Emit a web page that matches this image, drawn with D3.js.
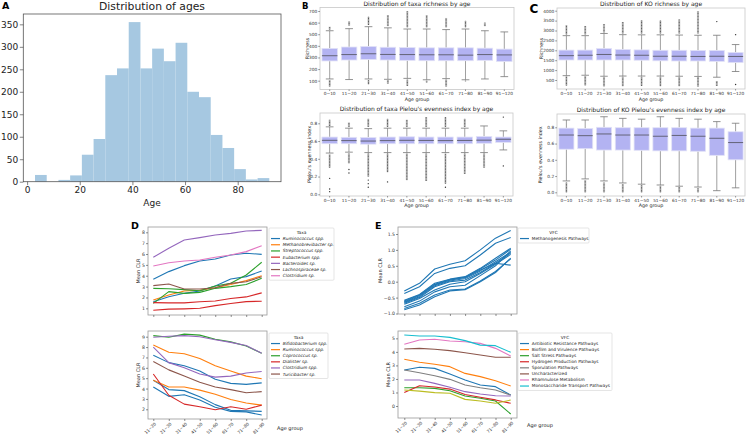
<!DOCTYPE html>
<html><head><meta charset="utf-8">
<script src="https://cdn.jsdelivr.net/npm/d3@7/dist/d3.min.js"></script>
<style>body{margin:0;background:#fff}svg{display:block}</style>
</head><body><script>
const FONT = "DejaVu Sans, sans-serif";

// ---------- Panel A: age histogram ----------
const ageBinEdges = [3,7.45,11.9,16.35,20.8,25.25,29.7,34.15,38.6,43.05,47.5,51.95,56.4,60.85,65.3,69.75,74.2,78.65,83.1,87.55,92];
const ageCounts = [15,0,4,14,60,95,237,252,355,252,296,268,309,200,188,104,75,28,5,8];
const ageXTicks = [0,20,40,60,80];
const ageYTicks = [0,50,100,150,200,250,300,350];

// ---------- Panels B/C: boxplots ----------
const ageGroups = ["0~10","11~20","21~30","31~40","41~50","51~60","61~70","71~80","81~90","91~120"];

const taxaRichQ1  = [270,278,283,278,275,272,272,272,275,265];
const taxaRichMed = [315,325,332,326,325,323,323,320,325,322];
const taxaRichQ3  = [378,390,395,388,385,383,383,383,380,372];
const taxaRichLo  = [115,110,115,112,120,108,118,108,115,135];
const taxaRichHi  = [530,548,565,555,545,545,540,545,530,520];
const taxaRichOutHi = [[540,565],[575,610],[580,650],[570,665],[560,700],[560,665],[560,640],[560,615],[570,600],null];
const taxaRichOutLo = [[50,105],null,[70,105],[75,105],[55,110],[85,100],[50,110],[95,100],null,null];
const taxaRichPts = [[],[],[],[],[],[],[],[],[],[]];
const taxaRichTicks = [100,200,300,400,500,600,700];

const taxaEvenQ1  = [0.57,0.57,0.565,0.57,0.57,0.57,0.57,0.57,0.575,0.585];
const taxaEvenMed = [0.608,0.605,0.60,0.605,0.608,0.607,0.605,0.607,0.61,0.62];
const taxaEvenQ3  = [0.645,0.642,0.64,0.645,0.648,0.645,0.645,0.645,0.652,0.645];
const taxaEvenLo  = [0.465,0.475,0.47,0.47,0.47,0.47,0.47,0.47,0.47,0.50];
const taxaEvenHi  = [0.76,0.745,0.74,0.745,0.745,0.745,0.745,0.745,0.77,0.715];
const taxaEvenOutHi = [[0.77,0.84],[0.76,0.81],[0.76,0.85],[0.76,0.85],[0.76,0.84],[0.76,0.87],[0.76,0.87],[0.76,0.85],null,null];
const taxaEvenOutLo = [[0.30,0.45],[0.35,0.46],[0.20,0.46],[0.25,0.46],[0.16,0.46],[0.15,0.46],[0.12,0.46],[0.23,0.46],[0.30,0.46],null];
const taxaEvenPts = [[0.18,0.06,0.03],[0.28,0.24],[0.16,0.12,0.08],[0.14],[],[],[0.08],[],[],[0.87,0.32]];
const evenTicks = [0.0,0.2,0.4,0.6,0.8];

const koRichQ1  = [1510,1510,1510,1510,1500,1470,1460,1460,1440,1380];
const koRichMed = [1730,1750,1790,1760,1750,1700,1700,1690,1700,1690];
const koRichQ3  = [2010,2010,2090,2040,2020,2000,2000,1990,1990,1890];
const koRichLo  = [720,740,690,700,700,700,690,680,640,930];
const koRichHi  = [2740,2740,2850,2790,2780,2780,2770,2760,2760,2290];
const koRichOutHi = [[2800,3270],[2800,3230],[2900,3330],[2850,3430],[2850,3520],[2850,3500],[2850,3560],[2850,3980],null,null];
const koRichOutLo = [[220,690],[230,700],[180,660],[190,670],[200,670],[190,670],[190,660],[170,650],[200,450],null];
const koRichPts = [[],[],[],[],[],[],[],[],[3450],[2790,270]];
const koRichTicks = [500,1000,1500,2000,2500,3000,3500,4000];

const koEvenQ1  = [0.53,0.537,0.52,0.52,0.517,0.51,0.51,0.505,0.455,0.40];
const koEvenMed = [0.705,0.697,0.718,0.705,0.705,0.69,0.70,0.69,0.665,0.612];
const koEvenQ3  = [0.79,0.785,0.80,0.795,0.795,0.795,0.795,0.79,0.79,0.745];
const koEvenLo  = [0.14,0.165,0.14,0.115,0.10,0.09,0.075,0.065,0.02,0.055];
const koEvenHi  = [0.89,0.89,0.93,0.91,0.90,0.93,0.91,0.90,0.87,0.85];
const koEvenOutHi = [null,null,null,null,null,null,null,null,null,null];
const koEvenOutLo = [[0.0,0.12],[0.0,0.15],[0.0,0.12],[0.0,0.10],[0.0,0.09],[0.0,0.08],[0.0,0.065],[0.0,0.055],null,null];
const koEvenPts = [[],[],[],[],[],[],[],[],[],[]];

// ---------- Panels D/E: mean CLR lines ----------
const clrGroups = ["11~20","21~30","31~40","41~50","51~60","61~70","71~80","81~90"];

const dTopTaxa = ["Ruminococcus spp.","Methanobrevibacter sp.","Streptococcus spp.","Eubacterium spp.","Bacteroides sp.","Lachnospiraceae sp.","Clostridium sp."];
const dTopSeriesTaxon = [0,0,1,2,2,3,3,4,5,6];
const dTopValues = [
  [3.67,4.38,4.93,5.36,5.54,5.91,6.07,5.97],
  [1.60,2.07,2.38,2.60,3.06,3.70,3.92,4.44],
  [1.77,2.23,2.60,2.66,2.90,3.20,3.55,4.00],
  [2.84,2.80,2.72,2.62,3.06,3.30,4.07,5.24],
  [1.46,2.54,2.38,2.47,2.84,3.00,3.20,3.76],
  [1.52,1.50,1.50,1.60,1.67,1.90,2.05,2.42],
  [0.82,0.93,0.95,1.00,1.25,1.45,1.62,1.65],
  [5.70,6.53,7.29,7.51,7.75,7.90,8.12,8.18],
  [3.09,3.24,2.78,2.78,2.90,3.30,3.45,3.90],
  [4.90,5.20,5.36,5.45,5.70,5.91,6.22,6.77]
];
const dTopTicks = [1,2,3,4,5,6,7,8];

const dBotTaxa = ["Bifidobacterium spp.","Ruminococcus spp.","Coprococcus sp.","Dialister sp.","Clostridium spp.","Turicibacter sp."];
const dBotSeriesTaxon = [0,0,0,1,1,2,3,4,4,5];
const dBotValues = [
  [7.20,6.50,6.20,5.70,4.90,4.50,4.40,4.55],
  [4.80,3.90,3.80,3.20,2.45,1.90,1.85,1.80],
  [4.15,3.25,3.40,2.90,2.20,1.80,1.75,1.45],
  [8.20,7.50,7.35,6.90,6.20,5.70,5.20,4.95],
  [4.80,4.15,4.15,3.85,3.45,2.95,2.60,2.40],
  [9.10,8.95,9.25,9.15,8.75,8.50,8.10,7.40],
  [5.40,3.35,2.50,2.25,1.95,2.25,2.00,2.40],
  [8.95,9.05,9.10,9.00,8.70,8.45,8.15,7.40],
  [8.00,6.50,6.00,5.40,5.10,5.20,5.50,5.65],
  [6.60,5.80,5.20,4.60,4.15,3.90,3.60,3.70]
];
const dBotTicks = [2,3,4,5,6,7,8,9];

const eTopVfc = ["Methanogenesis Pathways"];
const eTopValues = [
  [-0.29,-0.05,0.40,0.55,0.66,1.00,1.37,1.61],
  [-0.37,-0.16,0.26,0.42,0.50,0.84,1.21,1.39],
  [-0.58,-0.40,-0.05,0.08,0.16,0.42,0.74,1.05],
  [-0.61,-0.42,-0.08,0.07,0.14,0.37,0.58,0.52],
  [-0.63,-0.44,-0.10,0.05,0.13,0.40,0.68,1.02],
  [-0.65,-0.47,-0.13,0.02,0.10,0.34,0.63,0.93],
  [-0.68,-0.50,-0.16,0.00,0.05,0.29,0.58,0.90],
  [-0.71,-0.53,-0.26,-0.08,0.00,0.26,0.55,0.86],
  [-0.79,-0.61,-0.32,-0.16,-0.11,0.19,0.50,0.97],
  [-0.84,-0.68,-0.42,-0.26,-0.23,0.02,0.32,0.72],
  [-0.88,-0.73,-0.47,-0.29,-0.25,0.00,0.29,0.74]
];
const eTopTicks = [-1.0,-0.5,0.0,0.5,1.0,1.5];

const eBotVfc = ["Antibiotic Resistance Pathways","Biofilm and Virulence Pathways","Salt Stress Pathways","Hydrogen Production Pathways","Sporulation Pathways","Uncharacterized","Rhamnulose Metabolism","Monosaccharide Transport Pathways"];
const eBotValues = [
  [2.66,2.86,2.78,2.36,1.92,1.55,1.43,0.81],
  [3.45,3.23,3.08,2.91,2.41,2.17,1.87,1.48],
  [1.35,1.35,1.30,1.13,0.74,0.57,0.37,-0.59],
  [1.00,1.50,1.40,1.25,0.85,0.65,0.45,0.20],
  [2.66,2.46,2.24,1.97,1.55,1.35,1.18,0.81],
  [4.21,4.26,4.19,4.09,3.94,3.77,3.60,3.60],
  [4.56,4.88,4.93,4.80,4.75,4.63,4.26,3.69],
  [5.25,5.17,5.17,5.07,4.83,4.50,4.46,3.97],
  [1.92,1.92,1.67,1.38,1.06,0.89,0.76,0.74],
  [1.18,1.10,0.99,0.94,0.49,0.37,0.20,0.44]
];
const eBotTicks = [0,1,2,3,4,5];

// ---------- styles ----------
const TAB = ["#1f77b4","#ff7f0e","#2ca02c","#d62728","#9467bd","#8c564b","#e377c2","#7f7f7f","#bcbd22","#17becf"];
const dTopColors = [TAB[0],TAB[1],TAB[2],TAB[3],TAB[4],TAB[5],TAB[6]];
const dBotColors = [TAB[0],TAB[1],TAB[2],TAB[3],TAB[4],TAB[5]];
const eBotColors = [TAB[0],TAB[1],TAB[2],TAB[3],TAB[7],TAB[5],TAB[6],TAB[9],TAB[4],TAB[8]];

const svg = d3.select("body").append("svg").attr("width",747).attr("height",435)
  .attr("font-family",FONT);
svg.append("rect").attr("width",747).attr("height",435).attr("fill","#fff");

function txt(x,y,s,fs,o={}){
  const t = svg.append("text").attr("x",x).attr("y",y).text(s)
    .attr("font-size",fs).attr("font-family",FONT).attr("fill",o.fill||"#222");
  if(o.anchor) t.attr("text-anchor",o.anchor);
  if(o.weight) t.attr("font-weight",o.weight);
  if(o.style) t.attr("font-style",o.style);
  if(o.rotate!==undefined) t.attr("transform",`rotate(${o.rotate},${x},${y})`);
  return t;
}
function styleAxis(g, fs, tickColor, labColor){
  g.select(".domain").remove();
  g.attr("font-family",FONT).attr("font-size",fs);
  g.selectAll(".tick line").attr("stroke",tickColor).attr("stroke-width",0.6);
  g.selectAll(".tick text").attr("font-size",fs).attr("font-family",FONT).attr("fill",labColor);
}
function frame(x0,y0,x1,y1,c,w){
  svg.append("rect").attr("x",x0).attr("y",y0).attr("width",x1-x0).attr("height",y1-y0)
    .attr("fill","none").attr("stroke",c).attr("stroke-width",w);
}

// ================= Panel A =================
(function(){
  const x0=23.3,x1=281,y0=14,y1=181.7;
  const x = d3.scaleLinear().domain([-1.45,96.45]).range([x0,x1]);
  const y = d3.scaleLinear().domain([0,373]).range([y1,y0]);
  svg.append("g").selectAll("rect").data(ageCounts).join("rect")
    .attr("x",(d,i)=>x(ageBinEdges[i]))
    .attr("width",(d,i)=>x(ageBinEdges[i+1])-x(ageBinEdges[i]))
    .attr("y",d=>y(d)).attr("height",d=>y(0)-y(d))
    .attr("fill","#a6c8e1");
  frame(x0,y0,x1,y1,"#555",0.8);
  const ya = svg.append("g").attr("transform",`translate(${x0},0)`)
    .call(d3.axisLeft(y).tickValues(ageYTicks).tickSize(3.5).tickPadding(1.5));
  styleAxis(ya,9,"#333","#222");
  const xa = svg.append("g").attr("transform",`translate(0,${y1})`)
    .call(d3.axisBottom(x).tickValues(ageXTicks).tickSize(3.5).tickPadding(1.5));
  styleAxis(xa,9,"#333","#222");
  txt(152,9.5,"Distribution of ages",10.8,{anchor:"middle"});
  txt(152,206,"Age",9,{anchor:"middle"});
  txt(2,8.5,"A",9.5,{weight:"bold",fill:"#000"});
})();

// ================= Box panels =================
function boxPanel(p){
  const x = d3.scaleBand().domain(ageGroups).range([p.x0,p.x1]).paddingInner(0.2).paddingOuter(0.1);
  const y = d3.scaleLinear().domain(p.domain).range([p.y1,p.y0]);
  const g = svg.append("g");
  const bw = x.bandwidth();
  ageGroups.forEach((k,i)=>{
    const cx = x(k)+bw/2;
    // whiskers + caps
    [[p.q3[i],p.hi[i]],[p.q1[i],p.lo[i]]].forEach(([a,b])=>{
      g.append("line").attr("x1",cx).attr("x2",cx).attr("y1",y(a)).attr("y2",y(b))
        .attr("stroke","#888").attr("stroke-width",0.8);
      g.append("line").attr("x1",cx-bw/4).attr("x2",cx+bw/4).attr("y1",y(b)).attr("y2",y(b))
        .attr("stroke","#777").attr("stroke-width",0.8);
    });
    // fliers (dense spans)
    [p.outHi[i],p.outLo[i]].forEach(s=>{
      if(!s) return;
      g.append("line").attr("x1",cx).attr("x2",cx).attr("y1",y(s[0])).attr("y2",y(s[1]))
        .attr("stroke","#cfcfcf").attr("stroke-width",2.2);
      g.append("line").attr("x1",cx).attr("x2",cx).attr("y1",y(s[0])).attr("y2",y(s[1]))
        .attr("stroke","#3a3a3a").attr("stroke-width",0.9).attr("stroke-dasharray","0.9,0.6");
    });
    (p.pts[i]||[]).forEach(v=>{
      g.append("circle").attr("cx",cx).attr("cy",y(v)).attr("r",0.7).attr("fill","#333");
    });
    // box
    g.append("rect").attr("x",x(k)).attr("y",y(p.q3[i])).attr("width",bw)
      .attr("height",y(p.q1[i])-y(p.q3[i]))
      .attr("fill","#b3b3f2").attr("stroke","#e2e2f7").attr("stroke-width",0.8);
    g.append("line").attr("x1",x(k)).attr("x2",x(k)+bw).attr("y1",y(p.med[i])).attr("y2",y(p.med[i]))
      .attr("stroke","#5a5a6a").attr("stroke-width",0.9);
  });
  frame(p.x0,p.y0,p.x1,p.y1,"#c8c8c8",0.8);
  const ya = svg.append("g").attr("transform",`translate(${p.x0},0)`)
    .call(d3.axisLeft(y).tickValues(p.ticks).tickFormat(p.fmt).tickSize(1.8).tickPadding(1));
  styleAxis(ya,4.3,"#555","#333");
  const xa = svg.append("g").attr("transform",`translate(0,${p.y1})`)
    .call(d3.axisBottom(x).tickSize(1.5).tickPadding(p.xpad));
  styleAxis(xa,4.3,"#555","#333");
  const cxm = (p.x0+p.x1)/2;
  txt(cxm,p.titleY,p.title,6,{anchor:"middle"});
  txt(cxm,p.xlabY,"Age group",4.8,{anchor:"middle"});
  txt(p.ylabX+1.7,(p.y0+p.y1)/2,p.ylabel,4.8,{anchor:"middle",rotate:-90});
}

boxPanel({x0:320,x1:514,y0:7.5,y1:89.5,domain:[700-(89.5-11)/0.11617,700+(11-7.5)/0.11617],
  q1:taxaRichQ1,med:taxaRichMed,q3:taxaRichQ3,lo:taxaRichLo,hi:taxaRichHi,
  outHi:taxaRichOutHi,outLo:taxaRichOutLo,pts:taxaRichPts,ticks:taxaRichTicks,fmt:d3.format("d"),
  xpad:1.2,title:"Distribution of taxa richness by age",titleY:5.8,xlabY:100.5,ylabel:"Richness",ylabX:307});
boxPanel({x0:320,x1:513,y0:113,y1:196,domain:[(194.3-196)/88.75,(194.3-113)/88.75],
  q1:taxaEvenQ1,med:taxaEvenMed,q3:taxaEvenQ3,lo:taxaEvenLo,hi:taxaEvenHi,
  outHi:taxaEvenOutHi,outLo:taxaEvenOutLo,pts:taxaEvenPts,ticks:evenTicks,fmt:d3.format(".1f"),
  xpad:1.2,title:"Distribution of taxa Pielou's evenness index by age",titleY:111,xlabY:206.5,ylabel:"Pielou's evenness index",ylabX:309});
boxPanel({x0:557,x1:745,y0:8,y1:89,domain:[4000-(89-10.7)/0.0198,4000+(10.7-8)/0.0198],
  q1:koRichQ1,med:koRichMed,q3:koRichQ3,lo:koRichLo,hi:koRichHi,
  outHi:koRichOutHi,outLo:koRichOutLo,pts:koRichPts,ticks:koRichTicks,fmt:d3.format("d"),
  xpad:1.5,title:"Distribution of KO richness by age",titleY:6.3,xlabY:100.5,ylabel:"Richness",ylabX:541});
boxPanel({x0:557,x1:745,y0:114,y1:196,domain:[(192.3-196)/81.25,(192.3-114)/81.25],
  q1:koEvenQ1,med:koEvenMed,q3:koEvenQ3,lo:koEvenLo,hi:koEvenHi,
  outHi:koEvenOutHi,outLo:koEvenOutLo,pts:koEvenPts,ticks:evenTicks,fmt:d3.format(".1f"),
  xpad:1.2,title:"Distribution of KO Pielou's evenness index by age",titleY:112,xlabY:206.5,ylabel:"Pielou's evenness index",ylabX:540});

txt(302,8.5,"B",8.5,{weight:"bold",fill:"#000"});
txt(529.5,13,"C",12,{weight:"bold",fill:"#000"});

// ================= Line panels =================
function legend(p){
  const n = p.names.length;
  const h = 12 + (n-1)*p.sp + 3;
  svg.append("rect").attr("x",p.x0).attr("y",p.y0).attr("width",p.x1-p.x0).attr("height",h)
    .attr("fill","#fff").attr("stroke","#d4d4d4").attr("stroke-width",0.6).attr("rx",1);
  txt((p.x0+p.x1)/2,p.y0+5.7,p.title,4.3,{anchor:"middle"});
  p.names.forEach((nm,i)=>{
    const by = p.y0+12+i*p.sp;
    svg.append("line").attr("x1",p.x0+2).attr("x2",p.x0+11).attr("y1",by-1.45).attr("y2",by-1.45)
      .attr("stroke",p.colors[i]).attr("stroke-width",1.2);
    txt(p.x0+13.7,by,nm,4.3,{style:p.italic?"italic":null});
  });
}
function linePanel(p){
  const x = d3.scalePoint().domain(clrGroups).range([p.xa,p.xb]);
  const y = d3.scaleLinear().domain(p.domain).range([p.y1,p.y0]);
  const ln = d3.line().x((d,i)=>x(clrGroups[i])).y(d=>y(d));
  const g = svg.append("g");
  p.values.forEach((vals,i)=>{
    g.append("path").attr("d",ln(vals)).attr("fill","none").attr("stroke",p.colors[i])
      .attr("stroke-width",1.1).attr("stroke-linejoin","round");
  });
  frame(p.x0,p.y0,p.x1,p.y1,"#999",0.8);
  const ya = svg.append("g").attr("transform",`translate(${p.x0},0)`)
    .call(d3.axisLeft(y).tickValues(p.ticks).tickFormat(p.fmt).tickSize(2).tickPadding(1));
  styleAxis(ya,4.6,"#444","#333");
  const xa = svg.append("g").attr("transform",`translate(0,${p.y1})`)
    .call(d3.axisBottom(x).tickSize(2).tickFormat(p.xlabels?(d=>d):(()=>"")));
  styleAxis(xa,4.2,"#444","#333");
  if(p.xlabels){
    xa.selectAll(".tick text").attr("text-anchor","end").attr("y",0).attr("dy","0.35em")
      .attr("transform","translate(1.5,4.2) rotate(-45)");
    txt(p.agX,p.agY,"Age group",5,{anchor:"middle"});
  }
  txt(p.ylabX+1.8,(p.y0+p.y1)/2,"Mean CLR",5,{anchor:"middle",rotate:-90});
}

linePanel({x0:148,x1:267,y0:227,y1:315,xa:153.3,xb:261.7,
  domain:[8-(315-232.3)/10.86,8+(232.3-227)/10.86],ticks:dTopTicks,fmt:d3.format("d"),
  values:dTopValues,colors:dTopSeriesTaxon.map(t=>dTopColors[t]),xlabels:false,ylabX:138});
legend({x0:269,x1:334,y0:228,sp:6.2,title:"Taxa",names:dTopTaxa,colors:dTopColors,italic:true});

linePanel({x0:148,x1:267,y0:331,y1:419,xa:153.3,xb:261.7,
  domain:[9-(419-336.7)/10.37,9+(336.7-331)/10.37],ticks:dBotTicks,fmt:d3.format("d"),
  values:dBotValues,colors:dBotSeriesTaxon.map(t=>dBotColors[t]),xlabels:true,agX:290,agY:429.5,ylabX:138});
legend({x0:269,x1:328,y0:333,sp:6.1,title:"Taxa",names:dBotTaxa,colors:dBotColors,italic:true});

linePanel({x0:398,x1:517,y0:227,y1:314,xa:404.3,xb:510.7,
  domain:[-(314-281.7)/31.8,(281.7-227)/31.8],ticks:eTopTicks,fmt:d3.format(".1f"),
  values:eTopValues,colors:eTopValues.map(()=>TAB[0]),xlabels:false,ylabX:380});
legend({x0:518,x1:589,y0:228,sp:6.1,title:"VFC",names:eTopVfc,colors:[TAB[0]],italic:false});

linePanel({x0:398,x1:517,y0:331,y1:418,xa:404.3,xb:510.7,
  domain:[-(418-406)/13.53,(406-331)/13.53],ticks:eBotTicks,fmt:d3.format("d"),
  values:eBotValues,colors:eBotColors,xlabels:true,agX:540,agY:427,ylabX:388});
legend({x0:518,x1:612,y0:333,sp:6.07,title:"VFC",names:eBotVfc,colors:eBotColors.slice(0,8),italic:false});

txt(131,229,"D",9.5,{weight:"bold",fill:"#000"});
txt(375,229,"E",9.5,{weight:"bold",fill:"#000"});
</script></body></html>
